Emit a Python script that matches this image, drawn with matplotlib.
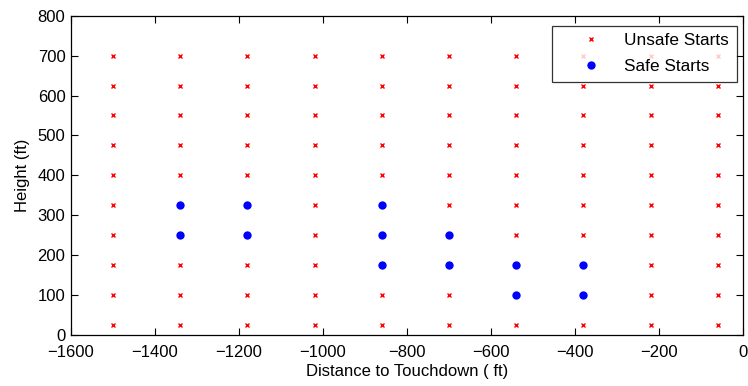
import matplotlib
matplotlib.use("Agg")
import matplotlib.pyplot as plt

plt.rcParams['font.family'] = ['Liberation Sans', 'DejaVu Sans']

x_grid = [-1500, -1340, -1180, -1020, -860, -700, -540, -380, -220, -60]
y_grid = [25, 100, 175, 250, 325, 400, 475, 550, 625, 700]

safe_x = [-1340, -1340, -1180, -1180, -860, -860, -860, -700, -700, -540, -540, -380, -380]
safe_y = [325, 250, 325, 250, 325, 250, 175, 250, 175, 175, 100, 175, 100]

safe_set = set(zip(safe_x, safe_y))
unsafe_x = [x for x in x_grid for y in y_grid if (x, y) not in safe_set]
unsafe_y = [y for x in x_grid for y in y_grid if (x, y) not in safe_set]

fig = plt.figure(figsize=(7.48, 3.86), dpi=100)
ax = fig.add_axes([0.0949, 0.1321, 0.8984, 0.8272])

ax.plot(unsafe_x, unsafe_y, 'x', color='red', markersize=2.3, markeredgewidth=1.0,
        linestyle='none', label='Unsafe Starts')
ax.plot(safe_x, safe_y, 'o', color='blue', markersize=6, markeredgewidth=0,
        linestyle='none', label='Safe Starts')

ax.set_xlim(-1600, 0)
ax.set_ylim(0, 800)
ax.set_xticks(range(-1600, 1, 200))
ax.set_yticks(range(0, 801, 100))
ax.tick_params(direction='in', top=True, right=True, labelsize=12, length=5, width=0.8)
ax.tick_params(axis='x', pad=7)
ax.tick_params(axis='y', pad=4)
for s in ax.spines.values():
    s.set_linewidth(0.9)

ax.set_xlabel('Distance to Touchdown ( ft)', fontsize=12, labelpad=3)
ax.set_ylabel('Height (ft)', fontsize=12, labelpad=5.5)

leg = ax.legend(loc='upper right', bbox_to_anchor=(0.991, 0.969), borderaxespad=0,
                fontsize=12.4, frameon=True, fancybox=False,
                edgecolor='black', borderpad=0.45, handletextpad=0.15, labelspacing=0.62,
                handlelength=3.6)
leg.get_frame().set_linewidth(0.9)

fig.savefig('out.png', dpi=100)
